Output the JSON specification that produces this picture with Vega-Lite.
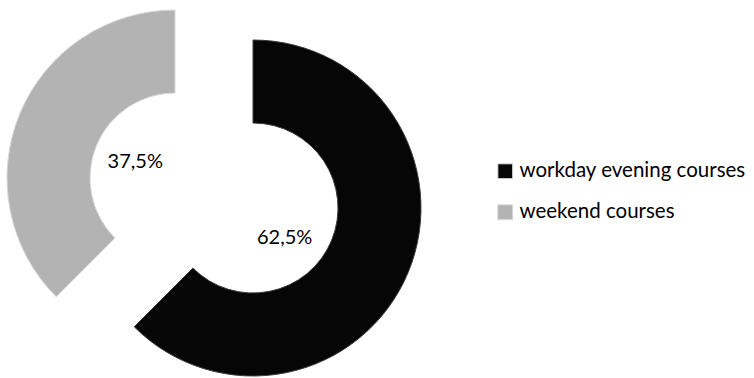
{
  "$schema": "https://vega.github.io/schema/vega-lite/v6.json",
  "width": 428,
  "height": 378,
  "padding": 0,
  "autosize": {"type": "pad"},
  "background": "white",
  "view": {"stroke": null},
  "data": {
    "values": [
      {"course": "workday evening courses", "share": 62.5, "label": "62,5%"},
      {"course": "weekend courses", "share": 37.5, "label": "37,5%"}
    ]
  },
  "transform": [
    {"stack": "share", "groupby": [], "as": ["s0", "s1"], "sort": [{"field": "share", "order": "descending"}]},
    {"calculate": "(datum.s0 + datum.s1) / 2", "as": "mid"}
  ],
  "layer": [
    {
      "transform": [{"filter": "datum.course === 'workday evening courses'"}],
      "mark": {"type": "arc", "innerRadius": 85, "outerRadius": 168, "xOffset": 39, "yOffset": 19, "stroke": "#3c3c3c", "strokeWidth": 1},
      "encoding": {
        "theta": {"field": "s0", "type": "quantitative", "scale": {"domain": [0, 100]}},
        "theta2": {"field": "s1"},
        "color": {
          "field": "course", "type": "nominal",
          "scale": {"domain": ["workday evening courses", "weekend courses"], "range": ["#060606", "#b3b3b3"]},
          "legend": {
            "title": null, "orient": "none", "legendX": 495, "legendY": 161,
            "symbolType": "square", "symbolSize": 220, "symbolStrokeColor": "#555555", "symbolStrokeWidth": 1,
            "labelFont": "Lato", "labelFontSize": 20.5, "labelColor": "#000000", "labelOffset": 4, "labelLimit": 400,
            "rowPadding": 20, "padding": 0
          }
        }
      }
    },
    {
      "transform": [{"filter": "datum.course === 'weekend courses'"}],
      "mark": {"type": "arc", "innerRadius": 85, "outerRadius": 168, "xOffset": -39, "yOffset": -11, "stroke": "#d8d8d8", "strokeWidth": 1},
      "encoding": {
        "theta": {"field": "s0", "type": "quantitative", "scale": {"domain": [0, 100]}},
        "theta2": {"field": "s1"},
        "color": {"field": "course", "type": "nominal"}
      }
    },
    {
      "transform": [{"filter": "datum.course === 'workday evening courses'"}],
      "mark": {"type": "text", "radius": 44, "xOffset": 39, "yOffset": 19, "dx": -9, "dy": 13, "font": "Lato", "fontSize": 20, "color": "#000000"},
      "encoding": {
        "theta": {"field": "mid", "type": "quantitative", "scale": {"domain": [0, 100]}},
        "text": {"field": "label"}
      }
    },
    {
      "transform": [{"filter": "datum.course === 'weekend courses'"}],
      "mark": {"type": "text", "radius": 43, "xOffset": -39, "yOffset": -11, "font": "Lato", "fontSize": 20, "color": "#000000"},
      "encoding": {
        "theta": {"field": "mid", "type": "quantitative", "scale": {"domain": [0, 100]}},
        "text": {"field": "label"}
      }
    }
  ]
}
